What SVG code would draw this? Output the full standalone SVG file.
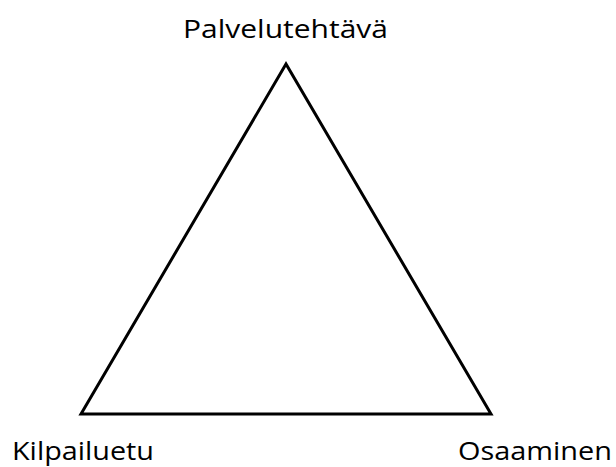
<svg xmlns="http://www.w3.org/2000/svg" width="616" height="467" viewBox="0 0 616 467">
<style>
.lbl{font-family:"Open Sans","Noto Sans",sans-serif;font-size:26px;font-weight:400;fill:#000;}
</style>
<rect width="616" height="467" fill="#fff"/>
<g id="connectors">
<polygon points="286,64 81,414 491,414" fill="none" stroke="#000" stroke-width="3" stroke-linejoin="miter"/>
</g>
<g id="node-top"><text class="lbl" x="183" y="38" textLength="205" lengthAdjust="spacingAndGlyphs">Palvelutehtävä</text></g>
<g id="node-left"><text class="lbl" x="12" y="460" textLength="142" lengthAdjust="spacingAndGlyphs">Kilpailuetu</text></g>
<g id="node-right"><text class="lbl" x="458" y="460" textLength="154" lengthAdjust="spacingAndGlyphs">Osaaminen</text></g>
</svg>
